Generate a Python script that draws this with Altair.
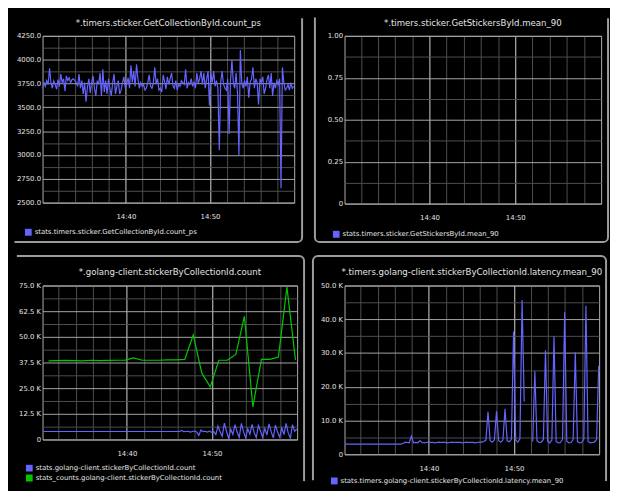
import altair as alt
import pandas as pd

# ---------------- data ----------------
# x positions are minutes after 14:00
X_DOMAIN = [30.1, 60.0]
x_ticks = [32, 34, 36, 38, 40, 42, 44, 46, 48, 50, 52, 54, 56, 58]

# panel 1: stats.timers.sticker.GetCollectionById.count_ps (10 s points from 14:30:06)
tl_series = "stats.timers.sticker.GetCollectionById.count_ps"
tl_start, tl_step = 30.1, 1 / 6
tl_values = [
    3700, 3760, 3720, 3780, 3740, 3910,
    3760, 3700, 3780, 3740, 3690, 3790,
    3720, 3850, 3760, 3800, 3670, 3830,
    3780, 3810, 3760, 3790, 3800, 3780,
    3760, 3720, 3850, 3700, 3780, 3640,
    3760, 3560, 3710, 3800, 3650, 3760,
    3830, 3700, 3620, 3780, 3740, 3860,
    3620, 3900, 3660, 3780, 3640, 3800,
    3700, 3620, 3760, 3850, 3640, 3720,
    3780, 3640, 3680, 3760, 3820, 3700,
    3740, 3810, 3700, 3940, 3760, 3880,
    3720, 3950, 3800, 3700, 3760, 3720,
    3740, 3680, 3700, 3760, 3840, 3720,
    3700, 3760, 3920, 3740, 3800, 3680,
    3700, 3660, 3840, 3770, 3690, 3820,
    3740, 3800, 3860, 3720, 3700, 3780,
    3680, 3740, 3720, 3780, 3760, 3740,
    3900, 3700, 3760, 3740, 3800, 3720,
    3770, 3700, 3860, 3750, 3800, 3880,
    3740, 3860, 3700, 3800, 3880, 3520,
    3860, 3760, 3880, 3720, 3780, 3700,
    3050, 3760, 3880, 3740, 3700, 3680,
    3800, 3220, 3780, 4000, 3760, 3700,
    3860, 3640, 3000, 4100, 3760, 3700,
    3780, 3720, 3820, 3600, 3760, 3800,
    3920, 3700, 3800, 3760, 3530, 3800,
    3760, 3820, 3640, 3700, 3790, 3840,
    3700, 3860, 3620, 3760, 3700, 3780,
    3740, 3800, 2650, 3920, 3760, 3680,
    3700, 3740, 3680, 3760, 3700, 3720,
]
tl_y_ticks = [2500 + 125 * i for i in range(15)]

# panel 2: stats.timers.sticker.GetStickersById.mean_90 (no data)
tr_series = "stats.timers.sticker.GetStickersById.mean_90"
tr_y_ticks = [0.125 * i for i in range(9)]

# panel 3: golang-client count (values in thousands)
bl_series = ["stats.golang-client.stickerByCollectionId.count",
             "stats_counts.golang-client.stickerByCollectionId.count"]
bl_start, bl_step = 30.2, 0.25
bl_client = [
    3.9, 3.9, 3.9, 3.9, 3.9, 3.9, 3.9, 3.9, 3.9, 3.9, 3.9, 3.9, 3.9, 3.9, 3.9, 3.9,
    3.9, 3.9, 3.9, 3.9, 3.9, 3.9, 3.9, 3.9, 3.9, 3.9, 3.9, 3.9, 3.9, 3.9, 3.9, 3.9,
    3.9, 3.9, 3.9, 3.9, 3.9, 3.9, 3.9, 3.9, 3.9, 3.9, 3.9, 3.9, 3.9, 3.9, 3.9, 3.9,
    3.9, 3.9, 3.9, 3.9, 3.9, 3.9, 3.9, 3.9, 3.9, 3.9, 3.9, 3.9, 3.9, 3.9, 3.9, 3.9,
    3.9, 4.4, 3.8, 3.9,
    4.0, 3.6, 3.9, 4.1,
    3.7, 2.0, 4.6, 3.8,
    4.0, 3.6, 4.1, 3.5,
    3.9, 2.4, 6.6, 3.8,
    1.6, 8.0, 4.0, 0.6,
    5.0, 2.4, 7.2, 3.6,
    1.0, 7.8, 3.8, 0.8,
    5.2, 2.6, 7.4, 3.4,
    0.9, 6.8, 4.0, 1.0,
    5.4, 2.2, 7.6, 3.8,
    0.8, 7.0, 3.6, 1.2,
    5.6, 2.4, 7.8, 3.2,
    0.6, 7.2, 4.0, 5.0,
]
bl_counts_minutes = [m + 0.8 for m in range(30, 60)]
bl_counts = [
    38.3, 38.4, 38.5, 38.4, 38.3, 38.6, 38.4, 38.5, 38.6, 38.7,
    39.7, 38.6, 38.6, 38.6, 38.8, 38.8, 39.0, 50.9, 32.3, 25.6,
    38.6, 38.6, 41.4, 60.0, 15.9, 39.0, 39.0, 40.2, 74.2, 38.8,
]
bl_y_ticks = [6.25 * i for i in range(13)]

# panel 4: latency mean_90 (values in thousands, None = gap)
br_series = "stats.timers.golang-client.stickerByCollectionId.latency.mean_90"
br_start, br_step = 30.2, 0.25
br_latency = [
    3.0, 3.0, 3.0, 3.0, 3.0, 3.0, 3.0, 3.0, 3.0, 3.0, 3.0, 3.0, 3.0, 3.0,
    3.0, 3.0, 3.0, 3.0, 3.0, 3.0, 3.0, 3.0, 3.0, 3.0, 3.0, 3.0, 3.0,
    3.2, 3.5, 3.5, 3.4, 5.4, 3.4, 3.5, 3.4, 4.0, 3.5, 3.4,
    3.5, 3.6, 3.5, 3.5, 3.4, 3.5, 3.6, 3.5, 3.5, 3.5, 3.4, 3.5, 3.6,
    3.5, 3.5, 3.5, 3.5, 3.4, 3.5, 3.6, 3.5, 3.5, 3.5, 3.4, 3.5, 3.6,
    3.6, 3.8, 4.2, 12.6,
    4.0, 3.6, 4.2, 12.7,
    4.0, 3.6, 4.2, 13.5,
    4.0, 3.7, 4.5, 36.4,
    4.2, 3.6, 4.6, 45.7, 15.6,
    None, None, None,
    3.8, 24.6,
    4.0, 3.5, 3.6, 4.4, 30.8,
    3.9, 3.4, 4.2, 35.0,
    3.8, 3.4, 3.5, 4.4, 42.1,
    3.9, 3.4, 3.5, 4.4, 30.2,
    3.8, 3.4, 3.5, 4.4, 44.0,
    3.8, 3.4, 3.5, 3.6, 4.4, 26.2,
]
br_y_ticks = [5.0 * i for i in range(11)]

titles = [
    "*.timers.sticker.GetCollectionById.count_ps",
    "*.timers.sticker.GetStickersById.mean_90",
    "*.golang-client.stickerByCollectionId.count",
    "*.timers.golang-client.stickerByCollectionId.latency.mean_90",
]

# ---------------- style ----------------
FONT = "DejaVu Sans"
TXT = "#e4e4e4"
MAJOR = "#a6a6a6"
MINOR = "#4e4e4e"
VMAJOR = "#d6d6d6"
BORDER = "#9c9c9c"
BLUE = "#6464ff"
GREEN = "#00c800"


def x_axis():
    return alt.Axis(
        values=x_ticks, title=None, labelPadding=10, labelFlush=False, labelOverlap=False,
        labelExpr="datum.value % 10 == 0 ? '14:' + datum.value : ''",
        gridColor={"condition": {"test": "datum.value % 10 == 0", "value": VMAJOR}, "value": MINOR},
    )


def y_axis(ticks, major_test, label_expr):
    return alt.Axis(
        values=ticks, title=None, labelPadding=2, labelOverlap=False, labelFlush=False,
        labelExpr=label_expr,
        gridColor={"condition": {"test": major_test, "value": MAJOR}, "value": MINOR},
    )


def legend(lx, ly):
    return alt.Legend(
        orient="none", legendX=lx, legendY=ly, direction="vertical", title=None,
        symbolType="square", symbolSize=1, symbolStrokeWidth=6, symbolOpacity=1,
        labelFontSize=7, labelColor=TXT, labelFont=FONT, labelLimit=500, labelOffset=3,
        rowPadding=2, padding=0, clipHeight=8,
    )


def frame(x1, x2, y1, y2, dash=None):
    kw = dict(filled=False, stroke=BORDER, strokeWidth=2, cornerRadius=5, clip=False)
    if dash:
        kw["strokeDash"] = dash
    return alt.Chart(pd.DataFrame({"frame": [1]})).mark_rect(**kw).encode(
        x=alt.value(x1), x2=alt.value(x2), y=alt.value(y1), y2=alt.value(y2)
    )


def title(text, off):
    return alt.TitleParams(text=text, offset=off, fontSize=8.7, font=FONT,
                           fontWeight="normal", color=TXT, anchor="middle")


xs = alt.Scale(domain=X_DOMAIN, nice=False, zero=False)

# ---- panel 1 ----
tl_df = pd.DataFrame({
    "minute": [tl_start + i * tl_step for i in range(len(tl_values))],
    "value": tl_values,
    "series": tl_series,
})
tl_line = alt.Chart(tl_df).mark_line(strokeWidth=1.2, clip=True).encode(
    x=alt.X("minute:Q", scale=xs, axis=x_axis()),
    y=alt.Y("value:Q", scale=alt.Scale(domain=[2500, 4250], nice=False, zero=False),
            axis=y_axis(tl_y_ticks, "datum.value % 250 == 0",
                        "datum.value % 250 == 0 ? format(datum.value, '.1f') : ''")),
    color=alt.Color("series:N", scale=alt.Scale(domain=[tl_series], range=[BLUE]), legend=legend(-18, 195)),
)
tl = alt.layer(
    frame(-33, 263, -23, 209, dash=[0, 293.85, 515.85, 2000]), tl_line
).properties(width=255, height=169, title=title(titles[0], -16))

# ---- panel 2 ----
tr_df = pd.DataFrame({"minute": [None], "value": [None], "series": [tr_series]})
tr_line = alt.Chart(tr_df).mark_line(strokeWidth=1.2, clip=True).encode(
    x=alt.X("minute:Q", scale=xs, axis=x_axis()),
    y=alt.Y("value:Q", scale=alt.Scale(domain=[0, 1], nice=False, zero=False),
            axis=y_axis(tr_y_ticks, "round(datum.value * 8) % 2 == 0",
                        "round(datum.value * 8) % 2 == 0 ? (datum.value == 0 ? '0' : format(datum.value, '.2f')) : ''")),
    color=alt.Color("series:N", scale=alt.Scale(domain=[tr_series], range=[BLUE]), legend=legend(-12, 197)),
)
tr = alt.layer(
    frame(-30, 267, -23, 209, dash=[0, 294.85, 746.7, 2000]), tr_line
).properties(width=260, height=170, title=title(titles[1], -16))

# ---- panel 3 ----
bl_df = pd.concat([
    pd.DataFrame({"minute": [bl_start + i * bl_step for i in range(len(bl_client))],
                  "value": bl_client, "series": bl_series[0]}),
    pd.DataFrame({"minute": bl_counts_minutes, "value": bl_counts, "series": bl_series[1]}),
], ignore_index=True)
bl_line = alt.Chart(bl_df).mark_line(strokeWidth=1.2, clip=True).encode(
    x=alt.X("minute:Q", scale=xs, axis=x_axis()),
    y=alt.Y("value:Q", scale=alt.Scale(domain=[0, 75], nice=False, zero=False),
            axis=y_axis(bl_y_ticks, "datum.value % 12.5 == 0",
                        "datum.value % 12.5 == 0 ? (datum.value == 0 ? '0' : format(datum.value, '.1f') + ' K') : ''")),
    color=alt.Color("series:N", scale=alt.Scale(domain=bl_series, range=[BLUE, GREEN]), legend=legend(-17, 181)),
)
bl = alt.layer(
    frame(-31, 265, -30, 203, dash=[516.85, 2000]), bl_line
).properties(width=258, height=156, title=title(titles[2], -22.5))

# ---- panel 4 ----
br_minutes = [br_start + i * br_step for i in range(len(br_latency))]
br_seg = [0 if i < 85 else 1 for i in range(len(br_latency))]
br_df = pd.DataFrame({"minute": br_minutes, "value": br_latency, "seg": br_seg, "series": br_series})
br_df = br_df.dropna()
br_line = alt.Chart(br_df).mark_line(strokeWidth=1.2, clip=True).encode(
    x=alt.X("minute:Q", scale=xs, axis=x_axis()),
    y=alt.Y("value:Q", scale=alt.Scale(domain=[0, 50], nice=False, zero=False),
            axis=y_axis(br_y_ticks, "datum.value % 10 == 0",
                        "datum.value % 10 == 0 ? (datum.value == 0 ? '0' : format(datum.value, '.1f') + ' K') : ''")),
    color=alt.Color("series:N", scale=alt.Scale(domain=[br_series], range=[BLUE]), legend=legend(-14, 194)),
    detail="seg:N",
)
br = alt.layer(
    frame(-32, 265, -30, 203, dash=[517.85, 302.7, 231.85, 1000]), br_line
).properties(width=258, height=171, title=title(titles[3], -22.5))

chart = alt.concat(
    tl, tr, bl, br, columns=2, spacing={"row": 10, "column": 5}, align="each"
).resolve_scale(
    color="independent"
).resolve_legend(
    color="independent"
).properties(
    background="black", padding=0
).configure(
    font=FONT
).configure_view(
    stroke="#b0b0b0", strokeWidth=1
).configure_axis(
    domain=False, ticks=False, labelColor=TXT, labelFont=FONT, labelFontSize=7, gridWidth=1,
)

chart.save("out.html", embed_options={"renderer": "svg", "actions": False})
